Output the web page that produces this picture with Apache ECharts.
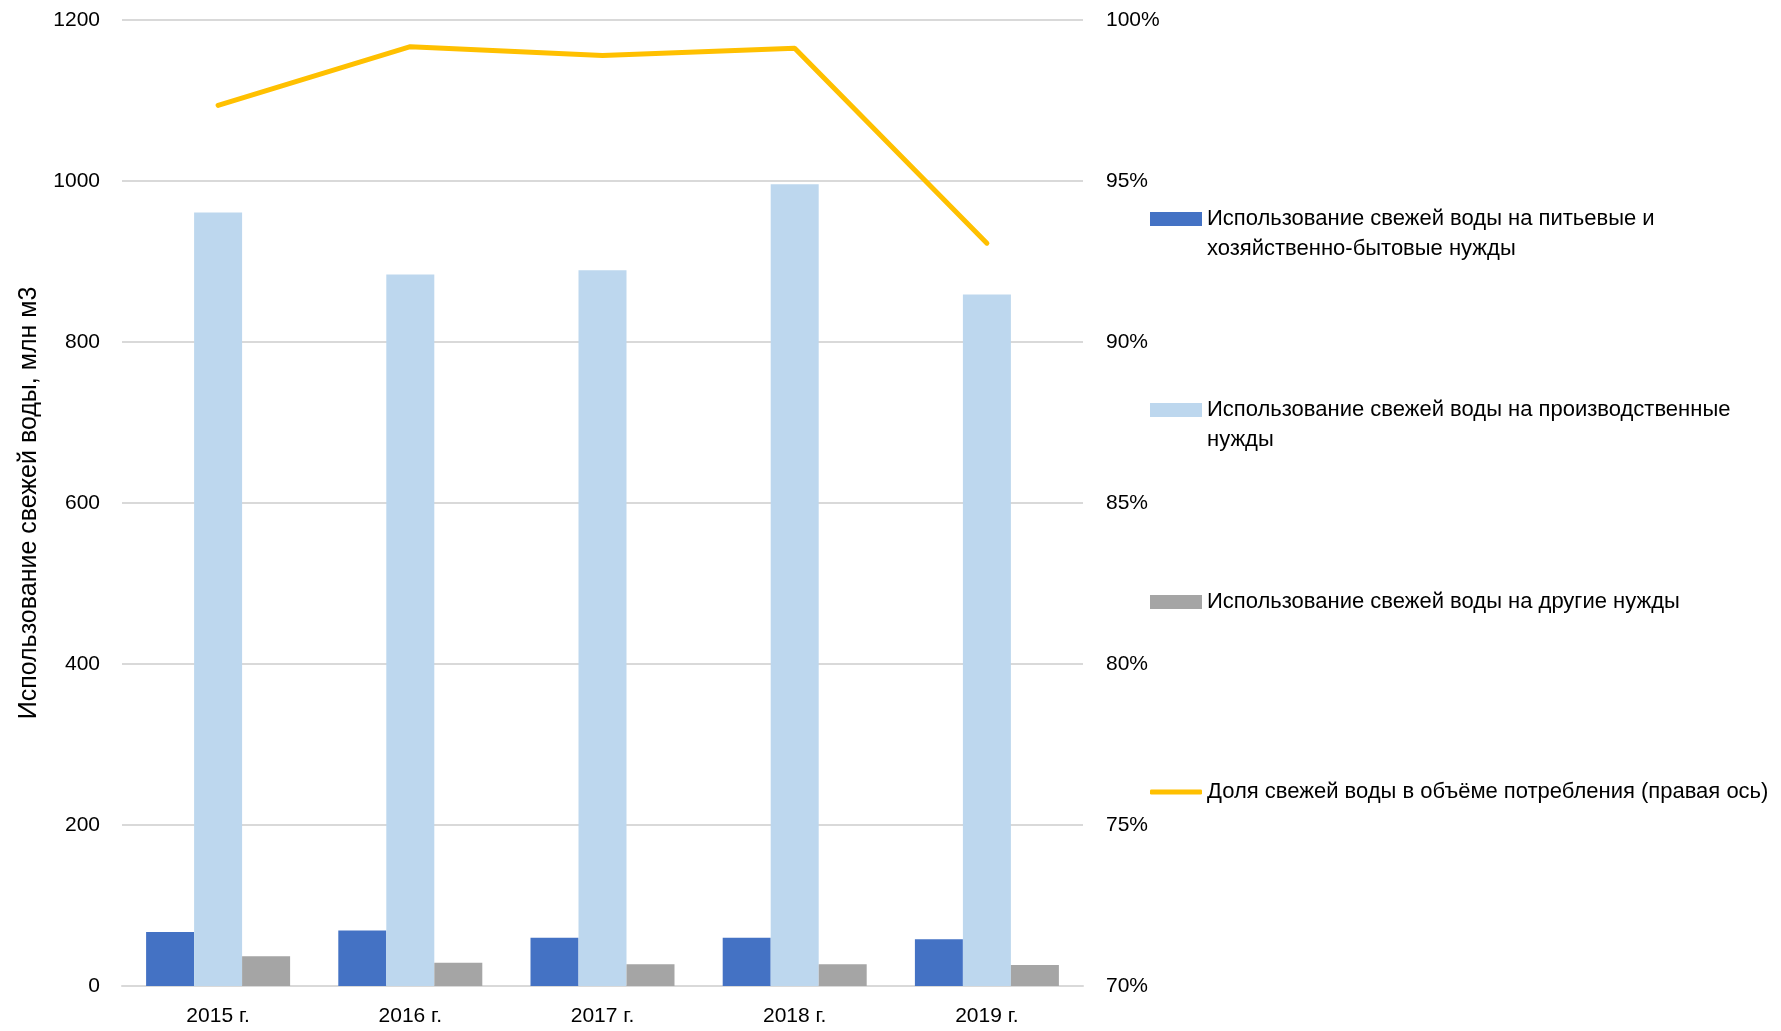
<!DOCTYPE html>
<html>
<head>
<meta charset="utf-8">
<script src="https://cdn.jsdelivr.net/npm/echarts@6/dist/echarts.min.js"></script>
<style>
  html, body { margin: 0; padding: 0; background: #fff; }
  #chart { width: 1781px; height: 1031px; }
</style>
</head>
<body>
<div id="chart"></div>
<script>
const years = ['2015 г.', '2016 г.', '2017 г.', '2018 г.', '2019 г.'];
const drinking = [67, 69, 60, 60, 58];
const industrial = [961, 884, 889, 996, 859];
const other = [37, 29, 27, 27, 26];
const freshShare = [97.35, 99.17, 98.9, 99.12, 93.07];

const nameDrinking = 'Использование свежей воды на питьевые и хозяйственно-бытовые нужды';
const nameIndustrial = 'Использование свежей воды на производственные нужды';
const nameOther = 'Использование свежей воды на другие нужды';
const nameShare = 'Доля свежей воды в объёме потребления (правая ось)';

// manual line breaks like in the original legend;
// leading empty line keeps the first text line level with the marker
const legendLabels = {};
legendLabels[nameDrinking] = '\nИспользование свежей воды на питьевые и\nхозяйственно-бытовые нужды';
legendLabels[nameIndustrial] = '\nИспользование свежей воды на производственные\nнужды';
legendLabels[nameOther] = nameOther;
legendLabels[nameShare] = nameShare;

const font = 'Liberation Sans, Arial, sans-serif';

const chart = echarts.init(document.getElementById('chart'));

function makeLegend(name, top, icon, itemHeight) {
  return {
    data: [{ name: name, icon: icon }],
    left: 1150,
    top: top,
    padding: 0,
    itemWidth: 52,
    itemHeight: itemHeight,
    itemGap: 0,
    selectedMode: false,
    formatter: n => legendLabels[n],
    textStyle: {
      fontFamily: font,
      fontSize: 22,
      color: '#000',
      lineHeight: 30
    }
  };
}

const options = {
  animation: false,
  textStyle: { fontFamily: font },
  grid: { left: 122, right: 698, top: 20, bottom: 45 },
  legend: [
    makeLegend(nameDrinking, 174, 'rect', 14),
    makeLegend(nameIndustrial, 365, 'rect', 14),
    makeLegend(nameOther, 587, 'rect', 14),
    makeLegend(nameShare, 777, 'roundRect', 5)
  ],
  xAxis: {
    type: 'category',
    data: years,
    axisTick: { show: false },
    axisLine: { lineStyle: { color: '#d9d9d9', width: 2 } },
    axisLabel: { color: '#000', fontSize: 21, margin: 20, fontFamily: font }
  },
  yAxis: [
    {
      type: 'value',
      min: 0,
      max: 1200,
      interval: 200,
      name: 'Использование свежей воды, млн м3',
      nameLocation: 'middle',
      nameGap: 80,
      nameTextStyle: { color: '#000', fontSize: 25, fontFamily: font },
      axisLabel: { color: '#000', fontSize: 21, margin: 22, fontFamily: font, formatter: v => String(v) },
      splitLine: { lineStyle: { color: '#d9d9d9', width: 2 } }
    },
    {
      type: 'value',
      min: 70,
      max: 100,
      interval: 5,
      position: 'right',
      axisLabel: { color: '#000', fontSize: 21, margin: 23, formatter: '{value}%', fontFamily: font },
      splitLine: { show: false }
    }
  ],
  series: [
    {
      name: nameDrinking,
      type: 'bar',
      data: drinking,
      barWidth: 48,
      barGap: '0%',
      itemStyle: { color: '#4472c4' }
    },
    {
      name: nameIndustrial,
      type: 'bar',
      data: industrial,
      barWidth: 48,
      barGap: '0%',
      itemStyle: { color: '#bdd7ee' }
    },
    {
      name: nameOther,
      type: 'bar',
      data: other,
      barWidth: 48,
      barGap: '0%',
      itemStyle: { color: '#a5a5a5' }
    },
    {
      name: nameShare,
      type: 'line',
      yAxisIndex: 1,
      data: freshShare,
      symbol: 'none',
      lineStyle: { color: '#ffc000', width: 5, cap: 'round' },
      itemStyle: { color: '#ffc000' }
    }
  ]
};

chart.setOption(options);
</script>
</body>
</html>
